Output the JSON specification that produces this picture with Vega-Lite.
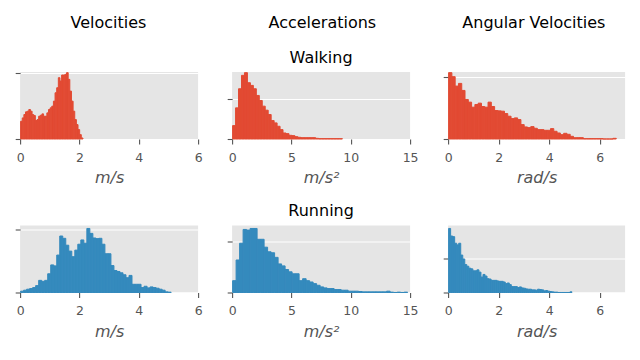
{
  "$schema": "https://vega.github.io/schema/vega-lite/v6.json",
  "padding": {"left": 14.1, "top": 14, "right": 14, "bottom": 5},
  "background": "white",
  "datasets": {
    "wv": [
      {"x":0,"count":53},{"x":0.0553,"count":63},{"x":0.1106,"count":73},{"x":0.1659,"count":81},{"x":0.2212,"count":83},{"x":0.2765,"count":88},{"x":0.3318,"count":83},{"x":0.3871,"count":73},{"x":0.4424,"count":70},{"x":0.4977,"count":55},
      {"x":0.553,"count":58},{"x":0.6083,"count":68},{"x":0.6636,"count":71},{"x":0.7189,"count":75},{"x":0.7742,"count":68},{"x":0.8295,"count":68},{"x":0.8848,"count":78},{"x":0.9401,"count":88},{"x":0.9954,"count":93},{"x":1.0507,"count":98},
      {"x":1.106,"count":113},{"x":1.1613,"count":138},{"x":1.2166,"count":153},{"x":1.2719,"count":183},{"x":1.3272,"count":173},{"x":1.3825,"count":191},{"x":1.4378,"count":191},{"x":1.4931,"count":193},{"x":1.5484,"count":198},{"x":1.6037,"count":178},
      {"x":1.659,"count":143},{"x":1.7143,"count":113},{"x":1.7696,"count":83},{"x":1.8249,"count":58},{"x":1.8802,"count":43},{"x":1.9355,"count":28},{"x":1.9908,"count":13},{"x":2.0461,"count":3}
    ],
    "wa": [
      {"x":0,"count":40},{"x":0.25,"count":93},{"x":0.5,"count":150},{"x":0.75,"count":190},{"x":1,"count":198},{"x":1.25,"count":168},{"x":1.5,"count":160},{"x":1.75,"count":150},{"x":2,"count":130},{"x":2.25,"count":115},
      {"x":2.5,"count":98},{"x":2.75,"count":86},{"x":3,"count":73},{"x":3.25,"count":55},{"x":3.5,"count":48},{"x":3.75,"count":38},{"x":4,"count":28},{"x":4.25,"count":18},{"x":4.5,"count":16},{"x":4.75,"count":11},
      {"x":5,"count":10},{"x":5.25,"count":7},{"x":5.5,"count":5},{"x":5.75,"count":4},{"x":6,"count":4},{"x":6.25,"count":4},{"x":6.5,"count":4},{"x":6.75,"count":4},{"x":7,"count":2},{"x":7.25,"count":1},
      {"x":7.5,"count":1},{"x":7.75,"count":1},{"x":8,"count":1},{"x":8.25,"count":1},{"x":8.5,"count":1},{"x":8.75,"count":1},{"x":9,"count":1}
    ],
    "ww": [
      {"x":0,"count":198},{"x":0.13,"count":186},{"x":0.26,"count":158},{"x":0.39,"count":166},{"x":0.52,"count":145},{"x":0.65,"count":118},{"x":0.78,"count":110},{"x":0.91,"count":95},{"x":1.04,"count":103},{"x":1.17,"count":107},
      {"x":1.3,"count":97},{"x":1.43,"count":95},{"x":1.56,"count":110},{"x":1.69,"count":97},{"x":1.82,"count":85},{"x":1.95,"count":84},{"x":2.08,"count":83},{"x":2.21,"count":76},{"x":2.34,"count":68},{"x":2.47,"count":61},
      {"x":2.6,"count":63},{"x":2.73,"count":58},{"x":2.86,"count":43},{"x":2.99,"count":36},{"x":3.12,"count":34},{"x":3.25,"count":37},{"x":3.38,"count":32},{"x":3.51,"count":28},{"x":3.64,"count":28},{"x":3.77,"count":26},
      {"x":3.9,"count":26},{"x":4.03,"count":31},{"x":4.16,"count":23},{"x":4.29,"count":18},{"x":4.42,"count":13},{"x":4.55,"count":17},{"x":4.68,"count":14},{"x":4.81,"count":8},{"x":4.94,"count":4},{"x":5.07,"count":4},
      {"x":5.2,"count":4},{"x":5.33,"count":1},{"x":5.46,"count":1},{"x":5.59,"count":1},{"x":5.72,"count":1},{"x":5.85,"count":1},{"x":5.98,"count":1},{"x":6.11,"count":0},{"x":6.24,"count":0},{"x":6.37,"count":0},
      {"x":6.5,"count":2}
    ],
    "rv": [
      {"x":0,"count":4},{"x":0.1015,"count":7},{"x":0.203,"count":10},{"x":0.3045,"count":12},{"x":0.406,"count":15},{"x":0.5075,"count":21},{"x":0.609,"count":37},{"x":0.7105,"count":34},{"x":0.812,"count":37},{"x":0.9135,"count":57},
      {"x":1.015,"count":84},{"x":1.1165,"count":81},{"x":1.218,"count":114},{"x":1.3195,"count":172},{"x":1.421,"count":165},{"x":1.5225,"count":144},{"x":1.624,"count":126},{"x":1.7255,"count":109},{"x":1.827,"count":129},{"x":1.9285,"count":147},
      {"x":2.03,"count":160},{"x":2.1315,"count":150},{"x":2.233,"count":195},{"x":2.3345,"count":180},{"x":2.436,"count":166},{"x":2.5375,"count":164},{"x":2.639,"count":165},{"x":2.7405,"count":147},{"x":2.842,"count":118},{"x":2.9435,"count":118},
      {"x":3.045,"count":82},{"x":3.1465,"count":67},{"x":3.248,"count":64},{"x":3.3495,"count":60},{"x":3.451,"count":54},{"x":3.5525,"count":45},{"x":3.654,"count":52},{"x":3.7555,"count":25},{"x":3.857,"count":25},{"x":3.9585,"count":25},
      {"x":4.06,"count":15},{"x":4.1615,"count":19},{"x":4.263,"count":14},{"x":4.3645,"count":17},{"x":4.466,"count":15},{"x":4.5675,"count":13},{"x":4.669,"count":10},{"x":4.7705,"count":7},{"x":4.872,"count":2},{"x":4.9735,"count":1}
    ],
    "ra": [
      {"x":0,"count":36},{"x":0.295,"count":99},{"x":0.59,"count":150},{"x":0.885,"count":192},{"x":1.18,"count":190},{"x":1.475,"count":195},{"x":1.77,"count":195},{"x":2.065,"count":162},{"x":2.36,"count":162},{"x":2.655,"count":138},
      {"x":2.95,"count":124},{"x":3.245,"count":121},{"x":3.54,"count":107},{"x":3.835,"count":87},{"x":4.13,"count":81},{"x":4.425,"count":70},{"x":4.72,"count":63},{"x":5.015,"count":57},{"x":5.31,"count":57},{"x":5.605,"count":36},
      {"x":5.9,"count":42},{"x":6.195,"count":36},{"x":6.49,"count":32},{"x":6.785,"count":27},{"x":7.08,"count":22},{"x":7.375,"count":17},{"x":7.67,"count":14},{"x":7.965,"count":12},{"x":8.26,"count":12},{"x":8.555,"count":9},
      {"x":8.85,"count":9},{"x":9.145,"count":7},{"x":9.44,"count":7},{"x":9.735,"count":4},{"x":10.03,"count":4},{"x":10.325,"count":4},{"x":10.62,"count":3},{"x":10.915,"count":2},{"x":11.21,"count":2},{"x":11.505,"count":2},
      {"x":11.8,"count":2},{"x":12.095,"count":2},{"x":12.39,"count":2},{"x":12.685,"count":2},{"x":12.98,"count":4},{"x":13.275,"count":1},{"x":13.57,"count":0},{"x":13.865,"count":1},{"x":14.16,"count":0},{"x":14.455,"count":1}
    ],
    "rw": [
      {"x":0,"count":195},{"x":0.08,"count":172},{"x":0.16,"count":170},{"x":0.24,"count":150},{"x":0.32,"count":145},{"x":0.4,"count":150},{"x":0.48,"count":114},{"x":0.56,"count":102},{"x":0.64,"count":85},{"x":0.72,"count":80},
      {"x":0.8,"count":74},{"x":0.88,"count":72},{"x":0.96,"count":66},{"x":1.04,"count":66},{"x":1.12,"count":69},{"x":1.2,"count":62},{"x":1.28,"count":47},{"x":1.36,"count":55},{"x":1.44,"count":50},{"x":1.52,"count":42},
      {"x":1.6,"count":41},{"x":1.68,"count":37},{"x":1.76,"count":37},{"x":1.84,"count":37},{"x":1.92,"count":35},{"x":2,"count":34},{"x":2.08,"count":34},{"x":2.16,"count":32},{"x":2.24,"count":27},{"x":2.32,"count":29},
      {"x":2.4,"count":24},{"x":2.48,"count":18},{"x":2.56,"count":18},{"x":2.64,"count":18},{"x":2.72,"count":15},{"x":2.8,"count":17},{"x":2.88,"count":14},{"x":2.96,"count":13},{"x":3.04,"count":11},{"x":3.12,"count":10},
      {"x":3.2,"count":10},{"x":3.28,"count":8},{"x":3.36,"count":8},{"x":3.44,"count":7},{"x":3.52,"count":10},{"x":3.6,"count":9},{"x":3.68,"count":8},{"x":3.76,"count":5},{"x":3.84,"count":6},{"x":3.92,"count":4},
      {"x":4,"count":3},{"x":4.08,"count":2},{"x":4.16,"count":1},{"x":4.24,"count":1},{"x":4.32,"count":0},{"x":4.4,"count":0},{"x":4.48,"count":0},{"x":4.56,"count":0},{"x":4.64,"count":0},{"x":4.72,"count":0},
      {"x":4.8,"count":2}
    ]
  },
  "hconcat": [
    {
      "title": {"text": "Velocities", "offset": 19},
      "spacing": 16.5,
      "vconcat": [
        {
          "title": " ",
          "width": 178, "height": 67,
          "data": {"name": "wv"},
          "mark": {"type": "bar", "color": "#E24A33", "stroke": "#E24A33", "strokeWidth": 1, "strokeOpacity": 1, "opacity": 1, "binSpacing": 0},
          "encoding": {
            "x": {"field": "x", "type": "quantitative", "bin": {"binned": true, "step": 0.0553}, "scale": {"domain": [0, 6]}, "axis": {"values": [0, 2, 4, 6], "format": "d", "title": "m/s"}},
            "y": {"field": "count", "type": "quantitative", "scale": {"domain": [0, 200]}, "axis": {"values": [0, 196], "labels": false, "title": null}}
          }
        },
        {
          "title": " ",
          "width": 178, "height": 67,
          "data": {"name": "rv"},
          "mark": {"type": "bar", "color": "#348ABD", "stroke": "#348ABD", "strokeWidth": 1, "strokeOpacity": 1, "opacity": 1, "binSpacing": 0},
          "encoding": {
            "x": {"field": "x", "type": "quantitative", "bin": {"binned": true, "step": 0.1015}, "scale": {"domain": [0, 6]}, "axis": {"values": [0, 2, 4, 6], "format": "d", "title": "m/s"}},
            "y": {"field": "count", "type": "quantitative", "scale": {"domain": [0, 204]}, "axis": {"values": [0, 192], "labels": false, "title": null}}
          }
        }
      ]
    },
    {
      "title": {"text": "Accelerations", "offset": 19},
      "spacing": 16.5,
      "vconcat": [
        {
          "title": "Walking",
          "width": 178, "height": 67,
          "data": {"name": "wa"},
          "mark": {"type": "bar", "color": "#E24A33", "stroke": "#E24A33", "strokeWidth": 1, "strokeOpacity": 1, "opacity": 1, "binSpacing": 0},
          "encoding": {
            "x": {"field": "x", "type": "quantitative", "bin": {"binned": true, "step": 0.25}, "scale": {"domain": [0, 15]}, "axis": {"values": [0, 5, 10, 15], "format": "d", "title": "m/s²"}},
            "y": {"field": "count", "type": "quantitative", "scale": {"domain": [0, 200]}, "axis": {"values": [0, 120], "labels": false, "title": null}}
          }
        },
        {
          "title": "Running",
          "width": 178, "height": 67,
          "data": {"name": "ra"},
          "mark": {"type": "bar", "color": "#348ABD", "stroke": "#348ABD", "strokeWidth": 1, "strokeOpacity": 1, "opacity": 1, "binSpacing": 0},
          "encoding": {
            "x": {"field": "x", "type": "quantitative", "bin": {"binned": true, "step": 0.295}, "scale": {"domain": [0, 15]}, "axis": {"values": [0, 5, 10, 15], "format": "d", "title": "m/s²"}},
            "y": {"field": "count", "type": "quantitative", "scale": {"domain": [0, 204]}, "axis": {"values": [0, 154], "labels": false, "title": null}}
          }
        }
      ]
    },
    {
      "title": {"text": "Angular Velocities", "offset": 19},
      "spacing": 16.5,
      "vconcat": [
        {
          "title": " ",
          "width": 177, "height": 67,
          "data": {"name": "ww"},
          "mark": {"type": "bar", "color": "#E24A33", "stroke": "#E24A33", "strokeWidth": 1, "strokeOpacity": 1, "opacity": 1, "binSpacing": 0},
          "encoding": {
            "x": {"field": "x", "type": "quantitative", "bin": {"binned": true, "step": 0.13}, "scale": {"domain": [0, 7]}, "axis": {"values": [0, 2, 4, 6], "format": "d", "title": "rad/s"}},
            "y": {"field": "count", "type": "quantitative", "scale": {"domain": [0, 200]}, "axis": {"values": [0, 186], "labels": false, "title": null}}
          }
        },
        {
          "title": " ",
          "width": 177, "height": 67,
          "data": {"name": "rw"},
          "mark": {"type": "bar", "color": "#348ABD", "stroke": "#348ABD", "strokeWidth": 1, "strokeOpacity": 1, "opacity": 1, "binSpacing": 0},
          "encoding": {
            "x": {"field": "x", "type": "quantitative", "bin": {"binned": true, "step": 0.08}, "scale": {"domain": [0, 7]}, "axis": {"values": [0, 2, 4, 6], "format": "d", "title": "rad/s"}},
            "y": {"field": "count", "type": "quantitative", "scale": {"domain": [0, 204]}, "axis": {"values": [0, 104], "labels": false, "title": null}}
          }
        }
      ]
    }
  ],
  "spacing": 24,
  "config": {
    "view": {"fill": "#E5E5E5", "stroke": null},
    "bar": {"binSpacing": 0},
    "title": {"font": "DejaVu Sans", "fontSize": 16, "fontWeight": "normal", "color": "black", "offset": 6.2, "anchor": "middle"},
    "axis": {
      "domain": false,
      "tickColor": "#555555", "tickSize": 4.9, "tickWidth": 1.1,
      "labelColor": "#555555", "labelFont": "DejaVu Sans", "labelFontSize": 12.5, "labelPadding": 7.5,
      "titleFont": "DejaVu Sans", "titleFontStyle": "italic", "titleFontWeight": "normal", "titleColor": "#555555", "titleFontSize": 16, "titlePadding": 6,
      "gridColor": "white", "gridWidth": 1.1
    },
    "axisX": {"labelFlush": false, "labelOverlap": false},
    "axisY": {"minExtent": 0}
  }
}
